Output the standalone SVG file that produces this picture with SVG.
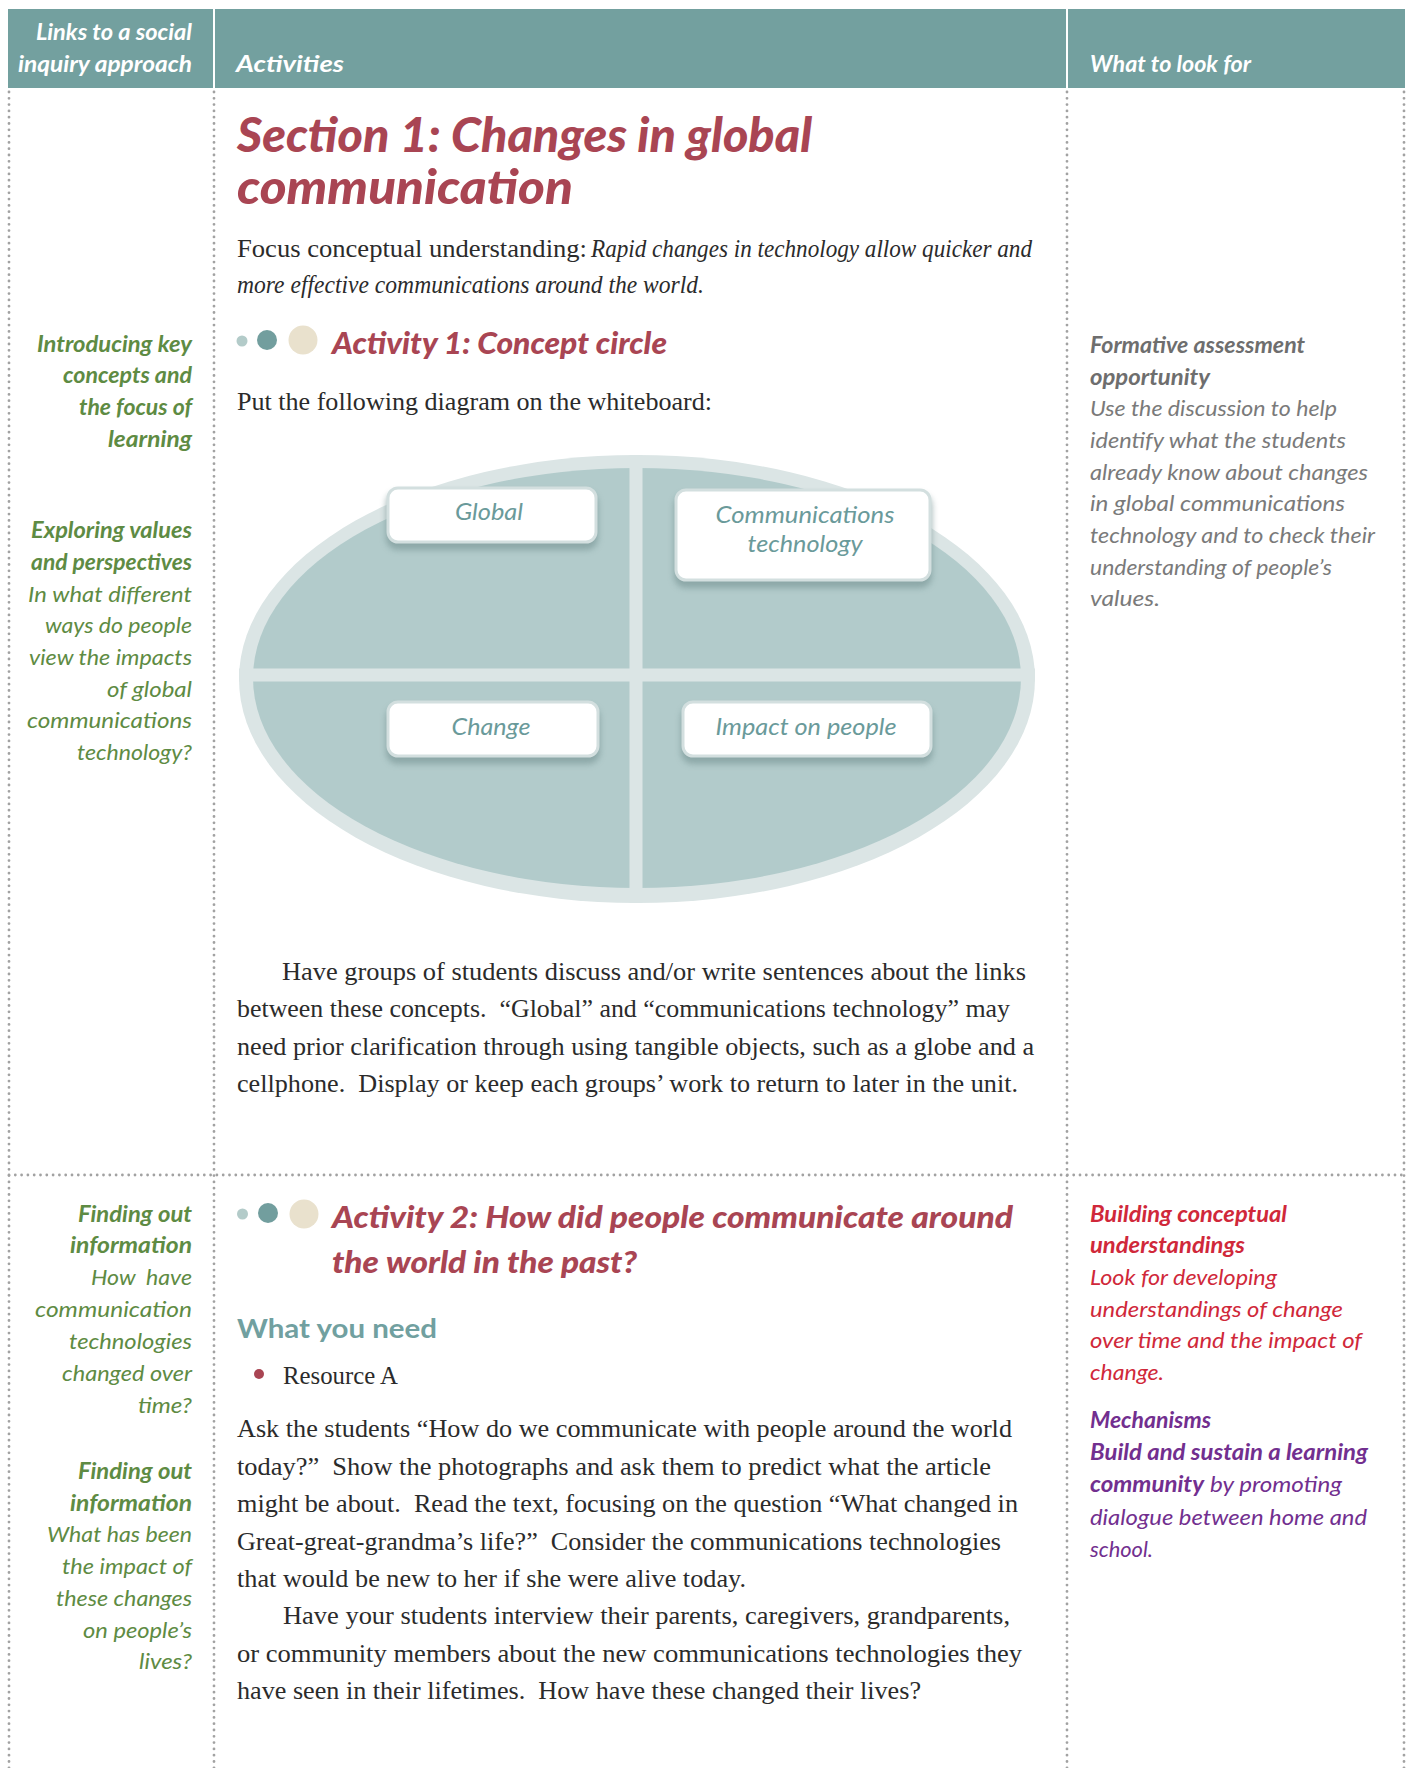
<svg xmlns="http://www.w3.org/2000/svg" width="1411" height="1768" viewBox="0 0 1411 1768">
<style>
.hd{font-family:Lato,"Open Sans",sans-serif;font-weight:bold;font-style:italic;font-size:23px;fill:#ffffff}
.ttl{font-family:Lato,"Open Sans",sans-serif;font-weight:900;font-style:italic;fill:#a94553}
.body{font-family:"Liberation Serif",serif;font-size:24.5px;fill:#2b2b2b;white-space:pre}
.bodyi{font-family:"Liberation Serif",serif;font-size:24.5px;font-style:italic;fill:#2b2b2b}
.gb{font-family:Lato,"Open Sans",sans-serif;font-size:22px;font-weight:bold;font-style:italic;fill:#5e8b43}
.gi{font-family:Lato,"Open Sans",sans-serif;font-size:22px;font-style:italic;fill:#5e8b43;white-space:pre}
.yb{font-family:Lato,"Open Sans",sans-serif;font-size:22px;font-weight:bold;font-style:italic;fill:#6e6e6e}
.yi{font-family:Lato,"Open Sans",sans-serif;font-size:22px;font-style:italic;fill:#7a7a7a}
.rb{font-family:Lato,"Open Sans",sans-serif;font-size:22px;font-weight:bold;font-style:italic;fill:#d0283a}
.ri{font-family:Lato,"Open Sans",sans-serif;font-size:22px;font-style:italic;fill:#d0283a}
.pb{font-family:Lato,"Open Sans",sans-serif;font-size:22px;font-weight:bold;font-style:italic;fill:#722f8f}
.pi{font-family:Lato,"Open Sans",sans-serif;font-size:22px;font-style:italic;fill:#722f8f}
.lbl{font-family:Lato,"Open Sans",sans-serif;font-size:24px;font-style:italic;fill:#6a9a9a;text-anchor:middle}
.dot{stroke:#a2a2a2;stroke-width:2.8;stroke-linecap:round;stroke-dasharray:0 6.3;fill:none}
.box{fill:#ffffff;stroke:#d3dfdf;stroke-width:3}
.shd{fill:#7d9999;opacity:0.7}
</style>
<defs>
<filter id="blur" x="-20%" y="-40%" width="140%" height="180%"><feGaussianBlur stdDeviation="3"/></filter>
</defs>

<g id="header">
<rect x="8" y="9" width="1397" height="79" fill="#73a09f"/>
<line x1="214" y1="9" x2="214" y2="88" stroke="#ffffff" stroke-width="2"/>
<line x1="1067" y1="9" x2="1067" y2="88" stroke="#ffffff" stroke-width="2"/>
<text class="hd" x="36" y="40" textLength="156" lengthAdjust="spacingAndGlyphs">Links to a social</text>
<text class="hd" x="18" y="72" textLength="174" lengthAdjust="spacingAndGlyphs">inquiry approach</text>
<text class="hd" x="236" y="72" textLength="108" lengthAdjust="spacingAndGlyphs">Activities</text>
<text class="hd" x="1090" y="72" textLength="161" lengthAdjust="spacingAndGlyphs">What to look for</text>
</g>

<g id="grid-lines">
<line class="dot" x1="9" y1="92" x2="9" y2="1768"/>
<line class="dot" x1="214" y1="92" x2="214" y2="1768"/>
<line class="dot" x1="1067" y1="92" x2="1067" y2="1768"/>
<line class="dot" x1="1404" y1="92" x2="1404" y2="1768"/>
<line class="dot" x1="9" y1="1175" x2="1404" y2="1175"/>
</g>

<g id="section1-title">
<text class="ttl" font-size="47" x="237" y="152" textLength="575" lengthAdjust="spacingAndGlyphs">Section 1: Changes in global</text>
<text class="ttl" font-size="47" x="237" y="204" textLength="336" lengthAdjust="spacingAndGlyphs">communication</text>
<text class="body" x="237" y="257" textLength="350" lengthAdjust="spacingAndGlyphs">Focus conceptual understanding:</text>
<text class="bodyi" x="591" y="257" textLength="441" lengthAdjust="spacingAndGlyphs">Rapid changes in technology allow quicker and</text>
<text class="bodyi" x="237" y="293" textLength="467" lengthAdjust="spacingAndGlyphs">more effective communications around the world.</text>
</g>

<g id="activity1-heading">
<circle cx="242" cy="341" r="5.5" fill="#b3cbc9"/>
<circle cx="267" cy="340" r="10" fill="#729e9e"/>
<circle cx="303" cy="340" r="14.5" fill="#e9e1cd"/>
<text class="ttl" font-size="31" x="332" y="354" textLength="335" lengthAdjust="spacingAndGlyphs">Activity 1: Concept circle</text>
<text class="body" x="237" y="410" textLength="475" lengthAdjust="spacingAndGlyphs">Put the following diagram on the whiteboard:</text>
</g>

<g id="links-1">
<text class="gb" x="37" y="352" textLength="155" lengthAdjust="spacingAndGlyphs">Introducing key</text>
<text class="gb" x="63" y="383" textLength="129" lengthAdjust="spacingAndGlyphs">concepts and</text>
<text class="gb" x="79" y="415" textLength="113" lengthAdjust="spacingAndGlyphs">the focus of</text>
<text class="gb" x="108" y="447" textLength="84" lengthAdjust="spacingAndGlyphs">learning</text>
<text class="gb" x="31" y="538" textLength="161" lengthAdjust="spacingAndGlyphs">Exploring values</text>
<text class="gb" x="31" y="570" textLength="161" lengthAdjust="spacingAndGlyphs">and perspectives</text>
<text class="gi" x="28" y="602" textLength="164" lengthAdjust="spacingAndGlyphs">In what different</text>
<text class="gi" x="45" y="633" textLength="147" lengthAdjust="spacingAndGlyphs">ways do people</text>
<text class="gi" x="29" y="665" textLength="163" lengthAdjust="spacingAndGlyphs">view the impacts</text>
<text class="gi" x="107" y="697" textLength="85" lengthAdjust="spacingAndGlyphs">of global</text>
<text class="gi" x="27" y="728" textLength="165" lengthAdjust="spacingAndGlyphs">communications</text>
<text class="gi" x="77" y="760" textLength="115" lengthAdjust="spacingAndGlyphs">technology?</text>
</g>

<g id="look-for-1">
<text class="yb" x="1090" y="353" textLength="215" lengthAdjust="spacingAndGlyphs">Formative assessment</text>
<text class="yb" x="1090" y="385" textLength="120" lengthAdjust="spacingAndGlyphs">opportunity</text>
<text class="yi" x="1090" y="416" textLength="247" lengthAdjust="spacingAndGlyphs">Use the discussion to help</text>
<text class="yi" x="1090" y="448" textLength="256" lengthAdjust="spacingAndGlyphs">identify what the students</text>
<text class="yi" x="1090" y="480" textLength="278" lengthAdjust="spacingAndGlyphs">already know about changes</text>
<text class="yi" x="1090" y="511" textLength="255" lengthAdjust="spacingAndGlyphs">in global communications</text>
<text class="yi" x="1090" y="543" textLength="285" lengthAdjust="spacingAndGlyphs">technology and to check their</text>
<text class="yi" x="1090" y="575" textLength="242" lengthAdjust="spacingAndGlyphs">understanding of people’s</text>
<text class="yi" x="1090" y="606" textLength="70" lengthAdjust="spacingAndGlyphs">values.</text>
</g>

<g id="concept-circle">
<ellipse cx="637" cy="679" rx="398" ry="224" fill="#dbe5e5"/>
<ellipse cx="637" cy="678" rx="384" ry="210" fill="#b2cbcb"/>
<line x1="636" y1="455" x2="636" y2="903" stroke="#dbe5e5" stroke-width="13"/>
<line x1="239" y1="675" x2="1035" y2="675" stroke="#dbe5e5" stroke-width="13"/>
</g>

<g id="node-global">
<rect class="shd" x="386" y="492" width="212" height="58" rx="12" filter="url(#blur)"/>
<rect class="box" x="388" y="488" width="208" height="54" rx="10"/>
<text class="lbl" x="489" y="520" textLength="68" lengthAdjust="spacingAndGlyphs">Global</text>
</g>

<g id="node-communications-technology">
<rect class="shd" x="674" y="494" width="258" height="94" rx="12" filter="url(#blur)"/>
<rect class="box" x="676" y="490" width="254" height="90" rx="10"/>
<text class="lbl" x="805" y="523" textLength="179" lengthAdjust="spacingAndGlyphs">Communications</text>
<text class="lbl" x="805" y="552" textLength="115" lengthAdjust="spacingAndGlyphs">technology</text>
</g>

<g id="node-change">
<rect class="shd" x="386" y="706" width="214" height="58" rx="12" filter="url(#blur)"/>
<rect class="box" x="388" y="702" width="210" height="54" rx="10"/>
<text class="lbl" x="491" y="735" textLength="79" lengthAdjust="spacingAndGlyphs">Change</text>
</g>

<g id="node-impact-on-people">
<rect class="shd" x="681" y="706" width="252" height="58" rx="12" filter="url(#blur)"/>
<rect class="box" x="683" y="702" width="248" height="54" rx="10"/>
<text class="lbl" x="806" y="735" textLength="181" lengthAdjust="spacingAndGlyphs">Impact on people</text>
</g>

<g id="activity1-text">
<text class="body" x="282" y="980" textLength="744" lengthAdjust="spacingAndGlyphs">Have groups of students discuss and/or write sentences about the links</text>
<text class="body" x="237" y="1017" textLength="773" lengthAdjust="spacingAndGlyphs" xml:space="preserve">between these concepts.  “Global” and “communications technology” may</text>
<text class="body" x="237" y="1055" textLength="797" lengthAdjust="spacingAndGlyphs">need prior clarification through using tangible objects, such as a globe and a</text>
<text class="body" x="237" y="1092" textLength="781" lengthAdjust="spacingAndGlyphs" xml:space="preserve">cellphone.  Display or keep each groups’ work to return to later in the unit.</text>
</g>

<g id="links-2">
<text class="gb" x="78" y="1222" textLength="114" lengthAdjust="spacingAndGlyphs">Finding out</text>
<text class="gb" x="70" y="1253" textLength="122" lengthAdjust="spacingAndGlyphs">information</text>
<text class="gi" x="91" y="1285" textLength="101" lengthAdjust="spacingAndGlyphs" xml:space="preserve">How  have</text>
<text class="gi" x="35" y="1317" textLength="157" lengthAdjust="spacingAndGlyphs">communication</text>
<text class="gi" x="69" y="1349" textLength="123" lengthAdjust="spacingAndGlyphs">technologies</text>
<text class="gi" x="62" y="1381" textLength="130" lengthAdjust="spacingAndGlyphs">changed over</text>
<text class="gi" x="138" y="1413" textLength="54" lengthAdjust="spacingAndGlyphs">time?</text>
<text class="gb" x="78" y="1479" textLength="114" lengthAdjust="spacingAndGlyphs">Finding out</text>
<text class="gb" x="70" y="1511" textLength="122" lengthAdjust="spacingAndGlyphs">information</text>
<text class="gi" x="47" y="1542" textLength="145" lengthAdjust="spacingAndGlyphs">What has been</text>
<text class="gi" x="62" y="1574" textLength="130" lengthAdjust="spacingAndGlyphs">the impact of</text>
<text class="gi" x="56" y="1606" textLength="136" lengthAdjust="spacingAndGlyphs">these changes</text>
<text class="gi" x="83" y="1638" textLength="109" lengthAdjust="spacingAndGlyphs">on people’s</text>
<text class="gi" x="139" y="1669" textLength="53" lengthAdjust="spacingAndGlyphs">lives?</text>
</g>

<g id="activity2-heading">
<circle cx="242.5" cy="1214" r="5.5" fill="#b3cbc9"/>
<circle cx="268" cy="1213" r="10" fill="#729e9e"/>
<circle cx="304" cy="1214" r="14.5" fill="#e9e1cd"/>
<text class="ttl" font-size="31" x="332" y="1228" textLength="681" lengthAdjust="spacingAndGlyphs">Activity 2: How did people communicate around</text>
<text class="ttl" font-size="31" x="332" y="1273" textLength="305" lengthAdjust="spacingAndGlyphs">the world in the past?</text>
<text x="237" y="1338" textLength="200" lengthAdjust="spacingAndGlyphs" font-family="Lato, 'Open Sans', sans-serif" font-weight="bold" font-size="27" fill="#71a0a0">What you need</text>
<circle cx="259" cy="1374" r="5" fill="#a94553"/>
<text class="body" x="283" y="1384" textLength="115" lengthAdjust="spacingAndGlyphs">Resource A</text>
</g>

<g id="activity2-text">
<text class="body" x="237" y="1437" textLength="775" lengthAdjust="spacingAndGlyphs">Ask the students “How do we communicate with people around the world</text>
<text class="body" x="237" y="1475" textLength="754" lengthAdjust="spacingAndGlyphs" xml:space="preserve">today?”  Show the photographs and ask them to predict what the article</text>
<text class="body" x="237" y="1512" textLength="781" lengthAdjust="spacingAndGlyphs" xml:space="preserve">might be about.  Read the text, focusing on the question “What changed in</text>
<text class="body" x="237" y="1550" textLength="764" lengthAdjust="spacingAndGlyphs" xml:space="preserve">Great-great-grandma’s life?”  Consider the communications technologies</text>
<text class="body" x="237" y="1587" textLength="509" lengthAdjust="spacingAndGlyphs">that would be new to her if she were alive today.</text>
<text class="body" x="283" y="1624" textLength="727" lengthAdjust="spacingAndGlyphs">Have your students interview their parents, caregivers, grandparents,</text>
<text class="body" x="237" y="1662" textLength="785" lengthAdjust="spacingAndGlyphs">or community members about the new communications technologies they</text>
<text class="body" x="237" y="1699" textLength="684" lengthAdjust="spacingAndGlyphs" xml:space="preserve">have seen in their lifetimes.  How have these changed their lives?</text>
</g>

<g id="look-for-2">
<text class="rb" x="1090" y="1222" textLength="197" lengthAdjust="spacingAndGlyphs">Building conceptual</text>
<text class="rb" x="1090" y="1253" textLength="155" lengthAdjust="spacingAndGlyphs">understandings</text>
<text class="ri" x="1090" y="1285" textLength="187" lengthAdjust="spacingAndGlyphs">Look for developing</text>
<text class="ri" x="1090" y="1317" textLength="253" lengthAdjust="spacingAndGlyphs">understandings of change</text>
<text class="ri" x="1090" y="1348" textLength="272" lengthAdjust="spacingAndGlyphs">over time and the impact of</text>
<text class="ri" x="1090" y="1380" textLength="74" lengthAdjust="spacingAndGlyphs">change.</text>
<text class="pb" x="1090" y="1428" textLength="121" lengthAdjust="spacingAndGlyphs">Mechanisms</text>
<text class="pb" x="1090" y="1460" textLength="278" lengthAdjust="spacingAndGlyphs">Build and sustain a learning</text>
<text class="pb" x="1090" y="1492" textLength="114" lengthAdjust="spacingAndGlyphs">community</text>
<text class="pi" x="1210" y="1492" textLength="132" lengthAdjust="spacingAndGlyphs">by promoting</text>
<text class="pi" x="1090" y="1525" textLength="277" lengthAdjust="spacingAndGlyphs">dialogue between home and</text>
<text class="pi" x="1090" y="1557" textLength="63" lengthAdjust="spacingAndGlyphs">school.</text>
</g>
</svg>
